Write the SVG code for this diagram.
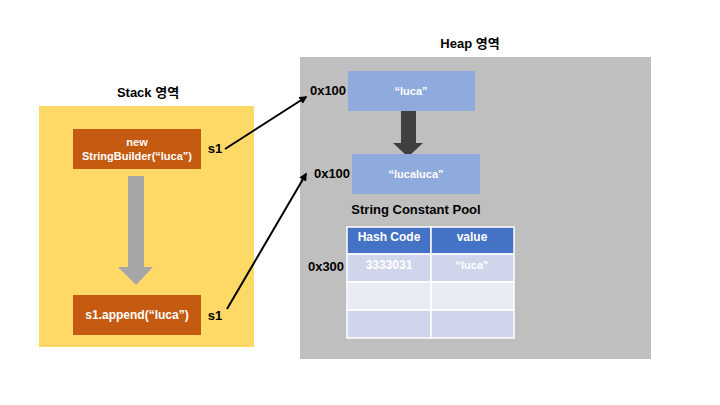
<svg xmlns="http://www.w3.org/2000/svg" width="720" height="405" viewBox="0 0 720 405">
<defs>
<style>
text{font-family:"Liberation Sans","Noto Sans CJK KR",sans-serif;font-weight:bold;text-anchor:middle;dominant-baseline:central}
.t{font-size:13px;fill:#000}
.w{fill:#fff;font-size:11px}
.lbl{font-size:13px;fill:#000}
.sb{fill:#C55A11}
.hb{fill:#8FAADC}
.cell{stroke:#fff;stroke-width:1.5}
.conn{stroke:#000;stroke-width:2;fill:none;marker-end:url(#ah)}
</style>
<marker id="ah" viewBox="0 0 10 10" refX="8" refY="5" markerWidth="4" markerHeight="4" orient="auto"><path d="M0,0 L10,5 L0,10 Z" fill="#000"/></marker>
</defs>
<rect width="720" height="405" fill="#fff"/>
<g id="stack">
<rect x="39" y="106" width="215" height="241" fill="#FFD966"/>
<text class="t" x="148" y="92">Stack 영역</text>
</g>
<g id="heap">
<rect x="300" y="57" width="351" height="302" fill="#BFBFBF"/>
<text class="t" x="470" y="43">Heap 영역</text>
</g>
<g id="sb-new">
<rect class="sb" x="73" y="129" width="128" height="40"/>
<text class="w" x="137" y="142">new</text>
<text class="w" x="137" y="156">StringBuilder(“luca”)</text>
</g>
<g id="stack-arrow">
<path d="M128,176 H144 V267 H153 L136,285 L118,267 H128 Z" fill="#A6A6A6"/>
</g>
<g id="sb-append">
<rect class="sb" x="73" y="295" width="128" height="40"/>
<text class="w" x="137" y="315" style="font-size:12px">s1.append(“luca”)</text>
</g>
<g id="s1-top"><text class="lbl" x="215" y="148">s1</text></g>
<g id="s1-bottom"><text class="lbl" x="215" y="315">s1</text></g>
<g id="heap-luca">
<rect class="hb" x="348" y="71" width="127" height="40"/>
<text class="w" x="411" y="91">“luca”</text>
<text class="lbl" x="328" y="90">0x100</text>
</g>
<g id="heap-arrow">
<path d="M401,111 H416 V143 H423 L408,157 L393,143 H401 Z" fill="#404040"/>
</g>
<g id="heap-lucaluca">
<rect class="hb" x="352" y="154" width="128" height="40"/>
<text class="w" x="416" y="174">“lucaluca”</text>
<text class="lbl" x="332" y="173">0x100</text>
</g>
<g id="pool">
<text class="lbl" x="416" y="209">String Constant Pool</text>
<rect class="cell" x="347" y="227" width="84" height="27" fill="#4472C4"/>
<rect class="cell" x="431" y="227" width="83" height="27" fill="#4472C4"/>
<rect class="cell" x="347" y="254" width="84" height="28" fill="#CFD5EA"/>
<rect class="cell" x="431" y="254" width="83" height="28" fill="#CFD5EA"/>
<rect class="cell" x="347" y="282" width="84" height="28" fill="#E9EBF5"/>
<rect class="cell" x="431" y="282" width="83" height="28" fill="#E9EBF5"/>
<rect class="cell" x="347" y="310" width="84" height="28" fill="#CFD5EA"/>
<rect class="cell" x="431" y="310" width="83" height="28" fill="#CFD5EA"/>
<text class="w" x="389" y="237" style="font-size:12px">Hash Code</text>
<text class="w" x="472" y="237" style="font-size:12px">value</text>
<text class="w" x="389" y="265" style="font-size:12px">3333031</text>
<text class="w" x="472" y="265">“luca”</text>
<text class="lbl" x="326" y="266">0x300</text>
</g>
<g id="connectors">
<line class="conn" x1="225" y1="149" x2="306" y2="97"/>
<line class="conn" x1="227" y1="309" x2="306" y2="174"/>
</g>
</svg>
